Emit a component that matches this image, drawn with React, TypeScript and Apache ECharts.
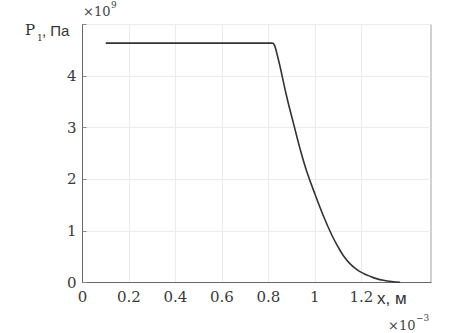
import React, { useEffect, useRef } from "react";
import * as echarts from "echarts";

// x in units of 1e-3 m, P in units of 1e9 Pa
const xValues = [0.1, 0.812, 0.82, 0.826, 0.832, 0.85, 0.879, 0.91, 0.937, 0.966, 1.0, 1.037, 1.073, 1.1, 1.123, 1.152, 1.181, 1.21, 1.238, 1.265, 1.295, 1.33, 1.367];
const pValues = [4.64, 4.64, 4.635, 4.6, 4.52, 4.19, 3.6, 3.05, 2.58, 2.14, 1.72, 1.29, 0.92, 0.69, 0.52, 0.36, 0.25, 0.175, 0.12, 0.075, 0.042, 0.018, 0.004];
const xTickLabels = [0, 0.2, 0.4, 0.6, 0.8, 1, 1.2];
const xGrid = [0.2, 0.4, 0.6, 0.8, 1, 1.2];
const yTickLabels = [0, 1, 2, 3, 4];

const SERIF = "DejaVu Serif";
const SANS = "Liberation Sans";

export default function App() {
  const ref = useRef<HTMLDivElement>(null);
  useEffect(() => {
    if (!ref.current) return;
    const chart = echarts.init(ref.current, undefined, { renderer: "svg" });
    const data = xValues.map((x, i) => [x, pValues[i]]);
    chart.setOption({
      animation: false,
      backgroundColor: "#fff",
      grid: {
        left: 82.5,
        top: 24.5,
        right: 44,
        bottom: 50.5,
        show: true,
        borderColor: "#a0a0a0",
        borderWidth: 1,
        backgroundColor: "transparent",
      },
      xAxis: {
        type: "value",
        min: 0,
        max: 1.5,
        interval: 0.2,
        axisLine: { show: true, onZero: false, lineStyle: { color: "#666", width: 1 } },
        axisTick: { show: false },
        splitLine: { show: false },
        axisLabel: {
          margin: 7,
          fontFamily: SERIF,
          fontSize: 15,
          color: "#3a3a3a",
          showMaxLabel: false,
          formatter: (v: number) => {
            const t = xTickLabels.find((l) => Math.abs(l - v) < 1e-6);
            return t === undefined ? "" : String(t);
          },
        },
      },
      yAxis: {
        type: "value",
        min: 0,
        max: 5,
        interval: 1,
        axisLine: { show: true, lineStyle: { color: "#666", width: 1 } },
        axisTick: { show: true, inside: true, length: 4, lineStyle: { color: "#888" } },
        splitLine: { show: true, lineStyle: { color: "#ebebeb", width: 1 } },
        axisLabel: {
          margin: 6,
          fontFamily: SERIF,
          fontSize: 15,
          color: "#3a3a3a",
          formatter: (v: number) => {
            const t = yTickLabels.find((l) => Math.abs(l - v) < 1e-6);
            return t === undefined ? "" : String(t);
          },
        },
      },
      series: [
        {
          type: "line",
          data,
          showSymbol: false,
          smooth: 0.4,
          lineStyle: { color: "#333", width: 1.6 },
          markLine: {
            silent: true,
            symbol: "none",
            label: { show: false },
            lineStyle: { color: "#ebebeb", width: 1, type: "solid" },
            data: xGrid.map((x) => ({ xAxis: x })),
            z: 0,
          },
          z: 3,
        },
      ],
      graphic: [
        { type: "text", left: 25, top: 22, style: { text: "P", fontFamily: SERIF, fontSize: 15, fill: "#333" } },
        { type: "text", left: 37, top: 33, style: { text: "1", fontFamily: SERIF, fontSize: 9, fill: "#333" } },
        { type: "text", left: 42, top: 23, style: { text: ", Па", fontFamily: SANS, fontSize: 15, fill: "#333" } },
        { type: "text", left: 83, top: 5, style: { text: "×10", fontFamily: SERIF, fontSize: 13, fill: "#444" } },
        { type: "text", left: 111, top: 0, style: { text: "9", fontFamily: SERIF, fontSize: 9, fill: "#444" } },
        { type: "text", left: 377, top: 290, style: { text: "x, м", fontFamily: SANS, fontSize: 17, fill: "#333" } },
        { type: "text", left: 388, top: 319, style: { text: "×10", fontFamily: SERIF, fontSize: 13, fill: "#444" } },
        { type: "text", left: 416, top: 313, style: { text: "−3", fontFamily: SERIF, fontSize: 9, fill: "#444" } },
      ],
    });
    return () => chart.dispose();
  }, []);
  return <div ref={ref} style={{ width: 475, height: 333, position: "absolute", left: 0, top: 0 }} />;
}
